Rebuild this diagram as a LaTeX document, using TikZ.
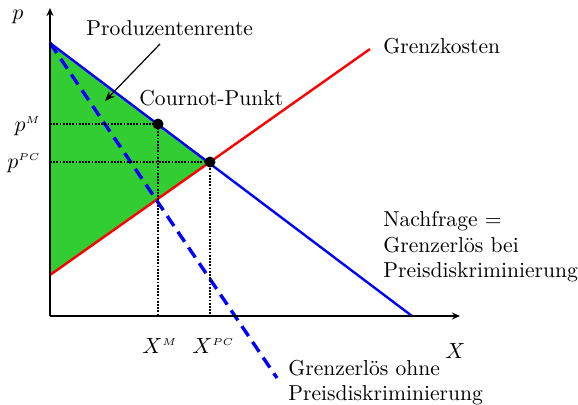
\documentclass[tikz,border=0pt]{standalone}
\usetikzlibrary{arrows.meta}
\definecolor{fillgreen}{RGB}{50,205,50}
\begin{document}
\begin{tikzpicture}[x=0.5pt,y=-0.5pt,
  lbl/.style={inner sep=0pt,anchor=base west,font=\fontsize{10.8}{12.5}\selectfont},
  axis/.style={line width=0.75pt,-{Stealth[length=4pt,width=3.5pt]}},
  demand/.style={blue,line width=1.2pt},
  cost/.style={red,line width=1.2pt},
  mr/.style={blue,line width=1.7pt,dash pattern=on 6pt off 3.5pt},
  guide/.style={line width=1.1pt,dash pattern=on 0.9pt off 0.7pt},
  pt/.style={circle,fill=black,inner sep=0pt,minimum size=5.5pt}]
\useasboundingbox (0,0) rectangle (578,404);
% coordinates
\coordinate (O) at (50,316);
\coordinate (ytop) at (50,8);
\coordinate (xend) at (460,316);
\coordinate (dA) at (50,43);
\coordinate (dB) at (412,316);
\coordinate (cA) at (50,275);
\coordinate (cB) at (370,49);
\coordinate (mB) at (277,378);
\coordinate (yM) at (50,124);
\coordinate (yPC) at (50,162);
\coordinate (xM) at (158,316);
\coordinate (xPC) at (210,316);
% green area
\fill[fillgreen] (dA) -- (210,162) -- (cA) -- cycle;
% lines
\draw[cost] (cA) -- (cB);
\draw[demand] (dA) -- (dB);
\draw[mr] (dA) -- (mB);
% points
\node[pt] (C) at (158,124) {};
\node[pt] (E) at (210,162) {};
% guides
\draw[guide] (yM) -- (C.center) -- (xM);
\draw[guide] (yPC) -- (E.center) -- (xPC);
% axes
\draw[axis] (O) -- (ytop);
\draw[axis] (O) -- (xend);
% labels
\node[lbl] (lp) at (12,19) {$p$};
\node[lbl,anchor=base east] (lpM) at (41,131) {$p^{\scriptscriptstyle M}$};
\node[lbl,anchor=base east] (lpPC) at (41,168) {$p^{\scriptscriptstyle PC}$};
\node[lbl] (lxM) at (142,353) {$X^{\scriptscriptstyle M}$};
\node[lbl] (lxPC) at (192,353) {$X^{\scriptscriptstyle PC}$};
\node[lbl] (lx) at (445,358) {$X$};
\node[lbl] (prod) at (86,35) {Produzentenrente};
\node[lbl] (cour) at (139,105) {Cournot-Punkt};
\node[lbl] (gk) at (383,53) {Grenzkosten};
\node[lbl] (n1) at (383,226) {Nachfrage =};
\node[lbl] (n2) at (383,252) {Grenzerlös bei};
\node[lbl] (n3) at (383,277) {Preisdiskriminierung};
\node[lbl] (g1) at (288,375) {Grenzerlös ohne};
\node[lbl] (g2) at (288,400) {Preisdiskriminierung};
% arrow
\coordinate (arrS) at (160,44);
\coordinate (arrE) at (105,101);
\draw[line width=0.6pt,-{Stealth[length=5pt,width=4pt]}] (arrS) -- (arrE);
\end{tikzpicture}
\end{document}
